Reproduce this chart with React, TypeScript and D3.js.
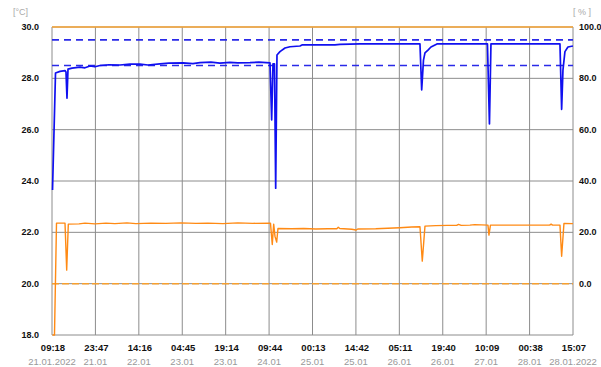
import React from "react";
import * as d3 from "d3";

// hours since 21.01.2022 09:18
const tempHours = [0.17, 1.17, 2.67, 4.34, 4.67, 5.0, 5.34, 6.67, 9.34, 11.0, 12.68, 14.3, 16.01, 19.0, 22.68, 26.0, 29.35, 32.0, 36.02, 39.0, 43.7, 47.0, 49.37, 53.0, 56.0, 59.37, 62.0, 66.04, 69.0, 72.72, 73.28, 73.72, 74.22, 74.62, 75.05, 76.05, 77.72, 79.39, 82.72, 83.39, 94.4, 96.06, 102.73, 122.75, 123.32, 123.92, 124.42, 125.42, 126.42, 128.42, 145.26, 145.93, 146.43, 169.45, 170.01, 170.45, 171.11, 172.11, 173.78];
const tempValues = [23.65, 28.21, 28.27, 28.30, 28.25, 27.23, 28.36, 28.40, 28.44, 28.41, 28.48, 28.45, 28.50, 28.53, 28.52, 28.55, 28.55, 28.52, 28.56, 28.59, 28.60, 28.57, 28.61, 28.63, 28.59, 28.62, 28.60, 28.61, 28.63, 28.60, 26.38, 28.56, 28.56, 23.72, 28.91, 29.04, 29.18, 29.23, 29.26, 29.30, 29.30, 29.32, 29.34, 29.34, 27.55, 28.71, 28.99, 29.10, 29.22, 29.34, 29.34, 26.22, 29.34, 29.34, 26.79, 28.32, 29.04, 29.22, 29.26];

const humHours = [0.17, 0.83, 1.5, 4.34, 4.9, 5.44, 9.0, 11.0, 14.34, 18.0, 21.0, 25.0, 28.0, 33.0, 38.0, 43.0, 48.0, 52.0, 57.0, 62.0, 67.0, 72.88, 73.48, 73.95, 74.38, 74.95, 75.38, 80.0, 84.0, 88.0, 92.0, 95.0, 95.5, 96.0, 100.0, 101.4, 102.0, 108.0, 112.0, 116.0, 120.0, 122.75, 123.52, 124.42, 128.0, 132.0, 135.0, 135.6, 136.5, 139.43, 141.0, 145.43, 145.76, 146.26, 152.0, 160.0, 166.0, 166.5, 167.0, 169.45, 170.01, 170.78, 173.78];
const humValues = [-20, -20, 23.57, 23.57, 5.26, 23.18, 23.3, 23.6, 23.3, 23.6, 23.4, 23.7, 23.4, 23.6, 23.5, 23.7, 23.5, 23.6, 23.4, 23.7, 23.5, 23.57, 15.27, 23.18, 18.5, 16.2, 21.5, 21.4, 21.5, 21.3, 21.4, 21.4, 22.0, 21.5, 21.2, 20.9, 21.3, 21.4, 21.6, 21.8, 22.1, 22.2, 8.77, 22.4, 22.6, 22.7, 22.7, 23.1, 22.7, 22.8, 23.0, 22.8, 18.9, 22.8, 22.8, 22.8, 22.8, 23.2, 22.8, 22.8, 10.7, 23.45, 23.4];

const tempLimits = [28.5, 29.5];
const humLimits = [0, 100];

const timeLabels = ["09:18", "23:47", "14:16", "04:45", "19:14", "09:44", "00:13", "14:42", "05:11", "19:40", "10:09", "00:38", "15:07"];
const dateLabels = ["21.01.2022", "21.01", "22.01", "23.01", "23.01", "24.01", "25.01", "25.01", "26.01", "26.01", "27.01", "28.01", "28.01.2022"];
const leftTicks = [18, 20, 22, 24, 26, 28, 30];
const rightTicks = [0, 20, 40, 60, 80, 100];

const TOTAL_HOURS = 173.8;

export default function App() {
  const W = 601, H = 367;
  const x = d3.scaleLinear().domain([0, TOTAL_HOURS]).range([52, 573]);
  const yL = d3.scaleLinear().domain([18, 30]).range([335, 27]);
  const yR = d3.scaleLinear().domain([-20, 100]).range([335, 27]);
  const tickHours = timeLabels.map((_, i) => (i * TOTAL_HOURS) / (timeLabels.length - 1));

  const tempLine = d3.line<number>().x((_, i) => x(tempHours[i])).y((v) => yL(v));
  const humLine = d3.line<number>().x((_, i) => x(humHours[i])).y((v) => yR(v));
  const font = "'Liberation Sans', Arial, sans-serif";
  const grid = "#8c8c8c";

  return (
    <svg width={W} height={H} style={{ position: "absolute", left: 0, top: 0, background: "#fff" }} fontFamily={font}>
      {leftTicks.map((t) => (
        <line key={"h" + t} x1={x(0)} x2={x(TOTAL_HOURS)} y1={yL(t)} y2={yL(t)} stroke={grid} strokeWidth={1} />
      ))}
      {tickHours.map((h, i) => (
        <line key={"v" + i} x1={x(h)} x2={x(h)} y1={yL(30)} y2={yL(18)} stroke={grid} strokeWidth={1} />
      ))}
      <line x1={x(0)} x2={x(TOTAL_HOURS)} y1={yR(humLimits[1])} y2={yR(humLimits[1])} stroke="#f7a535" strokeWidth={1.5} />
      <line x1={x(0)} x2={x(TOTAL_HOURS)} y1={yR(humLimits[0])} y2={yR(humLimits[0])} stroke="#f7a030" strokeWidth={1.5} strokeDasharray="7,3" />
      {tempLimits.map((t) => (
        <line key={"tl" + t} x1={x(0)} x2={x(TOTAL_HOURS)} y1={yL(t)} y2={yL(t)} stroke="#2a2ae8" strokeWidth={1.6} strokeDasharray="7,5" />
      ))}
      <path d={humLine(humValues) || ""} fill="none" stroke="#ff8a14" strokeWidth={1.4} strokeLinejoin="round" />
      <path d={tempLine(tempValues) || ""} fill="none" stroke="#1010f0" strokeWidth={1.7} strokeLinejoin="round" />

      {leftTicks.map((t) => (
        <text key={"lt" + t} x={39} y={yL(t)} dy="0.35em" textAnchor="end" fontSize={9} fontWeight="bold" fill="#111">
          {t.toFixed(1)}
        </text>
      ))}
      {rightTicks.map((t) => (
        <text key={"rt" + t} x={579} y={yR(t)} dy="0.35em" textAnchor="start" fontSize={9} fontWeight="bold" fill="#111">
          {t.toFixed(1)}
        </text>
      ))}
      <text x={13} y={15} fontSize={9} fill="#aaa">[°C]</text>
      <text x={573} y={15} fontSize={9} fill="#aaa">[ % ]</text>
      {tickHours.map((h, i) => (
        <g key={"xl" + i}>
          <text x={x(h) + 1} y={351} textAnchor="middle" fontSize={9.5} fontWeight="bold" fill="#111">
            {timeLabels[i]}
          </text>
          <text x={x(h)} y={365} textAnchor="middle" fontSize={9.5} fill="#999">
            {dateLabels[i]}
          </text>
        </g>
      ))}
    </svg>
  );
}
